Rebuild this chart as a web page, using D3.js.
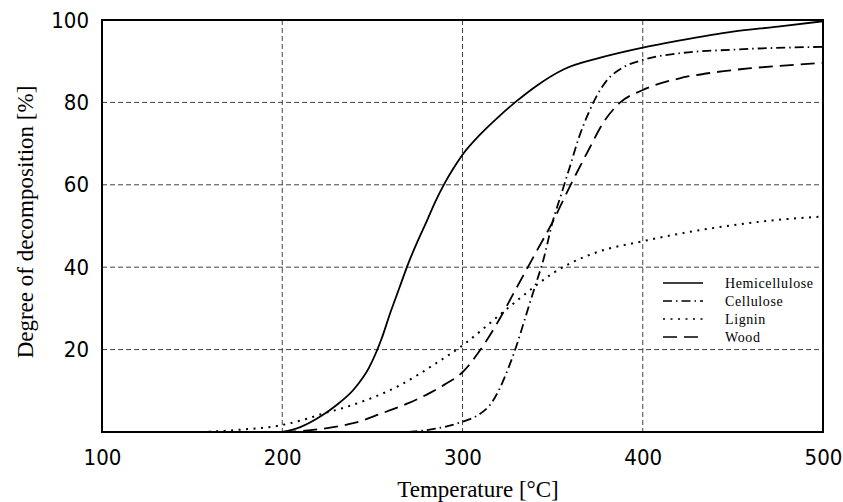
<!DOCTYPE html>
<html>
<head>
<meta charset="utf-8">
<script src="https://cdn.jsdelivr.net/npm/d3@7"></script>
<style>
body { margin: 0; background: #fff; }
.tick text { font-family: "DejaVu Sans Condensed", "DejaVu Sans", sans-serif; font-stretch: condensed; font-size: 22px; fill: #000; }
.title { font-family: "Liberation Serif", "Times New Roman", serif; font-size: 23px; fill: #000; }
.leg { font-family: "Liberation Serif", "Times New Roman", serif; font-size: 14px; letter-spacing: 0.6px; fill: #000; }
</style>
</head>
<body>
<script>

// values: [temperature, degree %]
var hemicellulose = [[200,0],[210,1.2],[222,4],[230,6.5],[240,10.5],[248,15.5],[255,22.5],[260,29],[265,35],[270,41],[275,46.2],[280,51],[285,56],[290,60.3],[295,64],[300,67.3],[310,72.3],[320,76.5],[330,80.3],[340,83.7],[356,88],[376,90.8],[400,93.3],[420,95],[450,97.2],[475,98.4],[500,99.7]];
var cellulose = [[270,0],[285,0.8],[300,2.5],[310,4.5],[316,7],[320,10],[325,15],[330,21],[335,28],[340,35],[345,42],[350,51],[355,58],[360,65],[365,72],[370,77.5],[375,82],[380,85.3],[388,88.2],[400,90.3],[420,91.9],[450,92.8],[500,93.5]];
var lignin = [[155,0],[175,0.5],[200,1.7],[212,3],[223,4.5],[235,6],[245,7.5],[255,9.2],[265,11.3],[275,13.8],[285,16.6],[300,21],[310,24.5],[320,28.2],[330,31.8],[340,35.3],[350,38.5],[360,41],[375,43.7],[400,46.3],[425,48.5],[450,50.2],[475,51.5],[500,52.3]];
var wood = [[200,0],[217,0.5],[230,1.3],[240,2.2],[255,4.5],[270,7],[282,9.5],[290,11.5],[300,14.5],[310,20],[320,27],[330,35],[340,43],[350,51],[360,60],[370,68.5],[378,75],[387,79.8],[400,83],[420,85.8],[440,87.3],[460,88.3],[480,89],[500,89.6]];

var seriesNames = ["Hemicellulose", "Cellulose", "Lignin", "Wood"];
var seriesData = [hemicellulose, cellulose, lignin, wood];
var dashes = [null, "9,4,1.5,4", "2,5.5", "14,7"];

var xTicks = [100, 200, 300, 400, 500];
var yTicks = [20, 40, 60, 80, 100];

var pL = 102, pR = 823, pT = 20, pB = 432;

var svg = d3.select("body").append("svg")
	.attr("width", 843)
	.attr("height", 502);

var x = d3.scaleLinear().domain([100, 500]).range([pL, pR]);
var y = d3.scaleLinear().domain([0, 100]).range([pB, pT]);

// grid
svg.append("g").selectAll("line")
	.data(xTicks.slice(1, -1))
	.enter().append("line")
	.attr("x1", d => x(d)).attr("x2", d => x(d))
	.attr("y1", pT).attr("y2", pB)
	.attr("stroke", "#444").attr("stroke-width", 1)
	.attr("stroke-dasharray", "5,3");

svg.append("g").selectAll("line")
	.data(yTicks.slice(0, -1))
	.enter().append("line")
	.attr("x1", pL).attr("x2", pR)
	.attr("y1", d => y(d)).attr("y2", d => y(d))
	.attr("stroke", "#444").attr("stroke-width", 1)
	.attr("stroke-dasharray", "5,3");

// curves
var line = d3.line()
	.x(d => x(d[0]))
	.y(d => y(d[1]))
	.curve(d3.curveMonotoneX);

svg.append("g").selectAll("path")
	.data(seriesData)
	.enter().append("path")
	.attr("d", line)
	.attr("fill", "none")
	.attr("stroke", "#000")
	.attr("stroke-width", (d, i) => i == 2 ? 2 : 1.8)
	.attr("stroke-dasharray", (d, i) => dashes[i]);

// frame
svg.append("rect")
	.attr("x", pL).attr("y", pT)
	.attr("width", pR - pL).attr("height", pB - pT)
	.attr("fill", "none").attr("stroke", "#000").attr("stroke-width", 2);

// axes
var xAxis = svg.append("g")
	.attr("transform", "translate(0," + pB + ")")
	.call(d3.axisBottom(x).tickValues(xTicks).tickSize(0).tickPadding(17));
xAxis.select(".domain").remove();

var yAxis = svg.append("g")
	.attr("transform", "translate(" + pL + ",0)")
	.call(d3.axisLeft(y).tickValues(yTicks).tickSize(0).tickPadding(13));
yAxis.select(".domain").remove();

svg.append("text")
	.attr("class", "title")
	.attr("x", 478).attr("y", 497)
	.attr("text-anchor", "middle")
	.text("Temperature [°C]");

svg.append("text")
	.attr("class", "title")
	.attr("transform", "translate(33,222) rotate(-90)")
	.attr("text-anchor", "middle")
	.text("Degree of decomposition [%]");

// legend
var leg = svg.append("g").selectAll("g")
	.data(seriesNames)
	.enter().append("g")
	.attr("transform", (d, i) => "translate(663," + (283 + i * 18) + ")");

leg.append("line")
	.attr("x1", 0).attr("x2", 40)
	.attr("stroke", "#000").attr("stroke-width", 1.5)
	.attr("stroke-dasharray", (d, i) => dashes[i]);

leg.append("text")
	.attr("class", "leg")
	.attr("x", 62).attr("y", 5)
	.text(d => d);

</script>
</body>
</html>
